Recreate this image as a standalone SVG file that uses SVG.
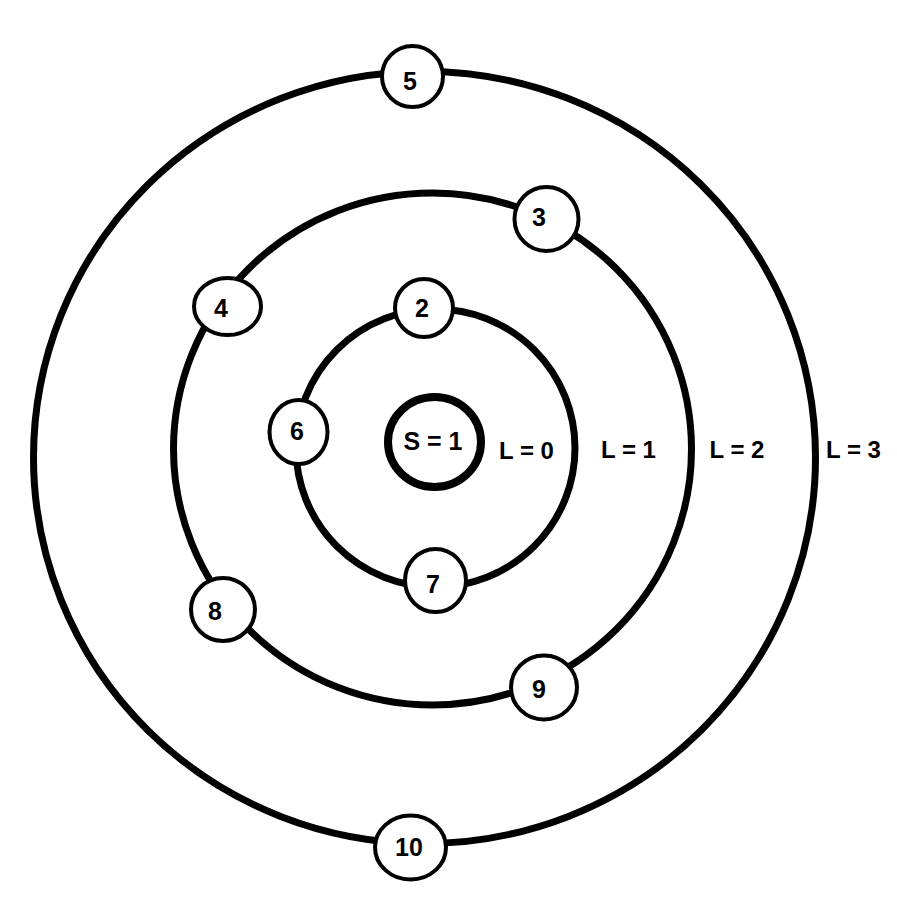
<svg xmlns="http://www.w3.org/2000/svg" width="897" height="909" viewBox="0 0 897 909">
<style>
.ring{fill:none;stroke:#000;stroke-width:7}
.node{fill:#fff;stroke:#000;stroke-width:4}
.t{font-family:"Liberation Sans",Arial,sans-serif;font-weight:bold;font-size:25px;fill:#000;text-anchor:middle}
.lbl{font-family:"Liberation Sans",Arial,sans-serif;font-weight:bold;font-size:24px;fill:#000;text-anchor:middle}
</style>
<rect width="897" height="909" fill="#fff"/>
<g id="rings">
<ellipse class="ring" cx="424.5" cy="457.5" rx="391" ry="386"/>
<ellipse class="ring" cx="432.5" cy="449" rx="259" ry="256"/>
<ellipse class="ring" cx="435.5" cy="448" rx="139.5" ry="139" stroke-width="6.5"/>
</g>
<g id="center">
<ellipse cx="434.5" cy="442" rx="46.5" ry="45" fill="#fff" stroke="#000" stroke-width="8"/>
<text class="t" x="433" y="450">S = 1</text>
</g>
<g id="labels">
<text class="lbl" x="526.5" y="459">L = 0</text>
<text class="lbl" x="628.5" y="458">L = 1</text>
<text class="lbl" x="737" y="458">L = 2</text>
<text class="lbl" x="853.5" y="458">L = 3</text>
</g>
<g id="n5"><ellipse class="node" cx="412.5" cy="76.5" rx="30.5" ry="30.5"/><text class="t" x="410" y="90">5</text></g>
<g id="n3"><ellipse class="node" cx="546.5" cy="219" rx="32" ry="32"/><text class="t" x="539" y="226">3</text></g>
<g id="n4"><ellipse class="node" cx="227.5" cy="306.5" rx="33.5" ry="28.5"/><text class="t" x="221" y="317">4</text></g>
<g id="n2"><ellipse class="node" cx="424" cy="308" rx="29" ry="29"/><text class="t" x="422" y="317">2</text></g>
<g id="n6"><ellipse class="node" cx="298.5" cy="432" rx="29" ry="32"/><text class="t" x="297" y="440">6</text></g>
<g id="n7"><ellipse class="node" cx="435.5" cy="580.5" rx="30.5" ry="31.5"/><text class="t" x="433" y="593">7</text></g>
<g id="n8"><ellipse class="node" cx="223" cy="609.5" rx="32" ry="31.5"/><text class="t" x="215" y="620">8</text></g>
<g id="n9"><ellipse class="node" cx="544" cy="687.5" rx="33" ry="32"/><text class="t" x="539" y="698">9</text></g>
<g id="n10"><ellipse class="node" cx="410.5" cy="847.5" rx="35.5" ry="32"/><text class="t" x="409" y="856">10</text></g>
</svg>
